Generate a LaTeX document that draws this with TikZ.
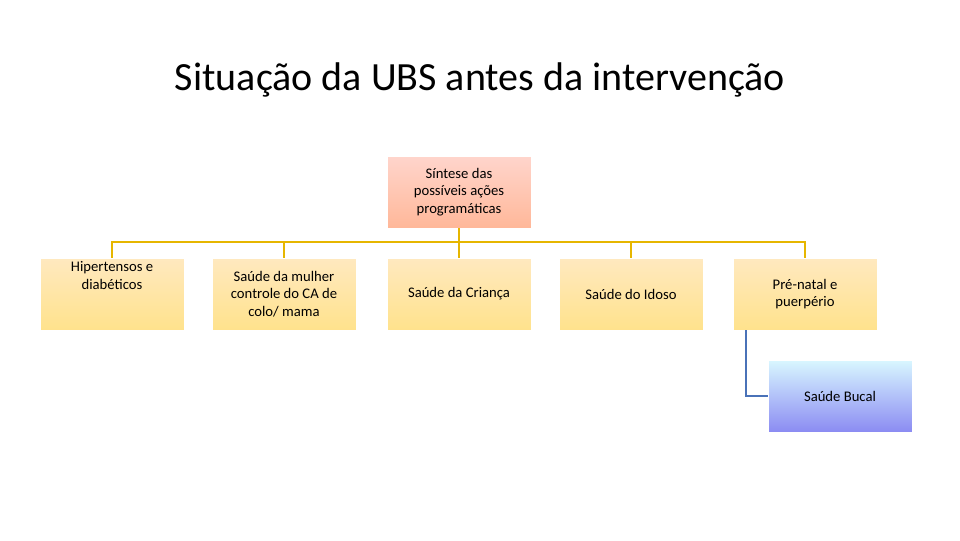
\documentclass[tikz,border=0pt]{standalone}
\usepackage{fontspec}
\setmainfont{Carlito}
\usetikzlibrary{positioning}
\definecolor{goldline}{HTML}{E6B600}
\definecolor{blueline}{HTML}{4A72B8}
\begin{document}
\begin{tikzpicture}[x=0.75pt,y=-0.75pt,
    every node/.style={minimum width=108pt, minimum height=54pt, align=center, font=\fontsize{11}{13}\selectfont, inner sep=2pt},
    orangebox/.style={top color=orange!35!red!20!white, bottom color=orange!60!red!40!white, draw=white},
    yellowbox/.style={top color=yellow!30!orange!25!white, bottom color=yellow!50!orange!45!white, draw=white},
    bluebox/.style={top color=blue!20!cyan!15!white, bottom color=blue!45!white!90!gray, draw=white},
    tree/.style={goldline, line width=1.5pt}
]
\useasboundingbox (0,0) rectangle (960,540);

% Title
\node[minimum width=0pt, minimum height=0pt, font=\fontsize{30}{34}\selectfont] (title) at (480,80) {Situação da UBS antes da intervenção};

% Nodes
\node[orangebox] (sintese) at (459,192) {Síntese das\\possíveis ações\\programáticas};
\node[yellowbox, text depth=28pt] (hiper) at (112,294) {Hipertensos e\\diabéticos};
\node[yellowbox] (mulher) at (284,294) {Saúde da mulher\\controle do CA de\\colo/ mama};
\node[yellowbox] (crianca) at (459,294) {Saúde da Criança};
\node[yellowbox] (idoso) at (631,294) {Saúde do Idoso};
\node[yellowbox] (prenatal) at (805,294) {Pré-natal e\\puerpério};
\node[bluebox] (bucal) at (840,396) {Saúde Bucal};

% Connectors
\coordinate (bar) at (459,242);
\draw[tree] (sintese.south) -- (bar);
\foreach \n in {hiper,mulher,crianca,idoso,prenatal}
    \draw[tree] (bar) -| (\n.north);
\draw[blueline, line width=1.5pt] (prenatal.south west) ++(13,0) |- (bucal.west);

\end{tikzpicture}
\end{document}
